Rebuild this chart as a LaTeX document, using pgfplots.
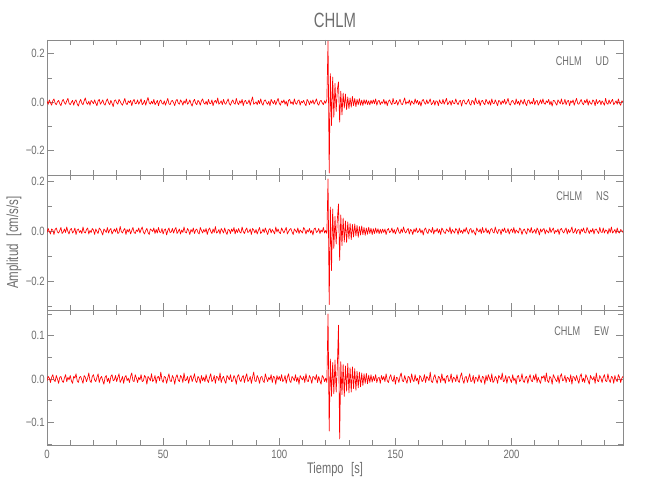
\documentclass[border=0pt]{standalone}
\usepackage{fontspec}
\setmainfont{Liberation Sans}[FakeStretch=0.72]
\newfontfamily\tickfont{Liberation Sans}[FakeStretch=0.8]
\usepackage{pgfplots}
\usepackage{pgfplotstable}
\pgfplotsset{compat=1.18}
\definecolor{axgray}{HTML}{8A8A8A}
\definecolor{txtgray}{HTML}{6E6E6E}
\definecolor{sred}{HTML}{FF0000}

% UD component, values in 0.001 cm/s/s, sample interval 0.5 s
\pgfplotstableread{
4
-8
10
-2
-12
6
14
-4
-10
2
8
-6
-14
4
12
-2
-8
6
16
-4
-10
0
8
-12
4
10
-6
-16
2
12
-4
-10
6
18
-2
-8
4
-12
8
2
-6
10
-4
-14
6
12
-8
0
10
-6
-12
4
14
-2
-10
8
-4
-18
6
10
-2
-8
12
4
-6
-12
2
16
-4
-10
6
-2
8
-14
4
12
-6
-4
10
-8
2
14
-10
-4
8
-12
6
20
-2
-8
4
-6
12
-10
-2
8
-14
4
10
-4
-8
6
-12
2
16
-6
-10
4
8
-2
-14
6
12
-4
-8
10
2
-12
6
-4
14
-8
-2
10
-6
-16
4
12
-4
-10
8
2
-12
6
14
-2
-8
4
-10
12
-4
-6
10
-14
2
8
-4
18
-8
-2
6
-10
12
-4
-8
4
14
-6
-12
2
10
-4
-8
16
-2
-10
6
-4
12
-14
4
8
-6
-2
10
-12
6
22
-8
-4
2
-10
8
-6
14
-4
-12
6
10
-2
-8
4
-14
12
2
-6
8
-10
4
16
-4
-12
6
-2
10
-8
4
-16
8
12
-6
2
-10
14
-4
-8
6
10
-12
4
-2
8
-6
-14
12
4
-10
6
-4
10
-8
2
14
-6
-12
4
8
-2
-10
6
-4
12
252
-292
118
-96
104
-62
78
-38
52
84
-82
46
-52
38
-24
34
-30
22
-26
18
-20
24
-14
16
-18
12
-10
15
-12
9
-13
11
-7
10
-9
6
-11
8
-6
10
-6
14
-12
4
8
-10
2
-4
12
-8
6
-14
4
10
-2
-10
16
-6
-4
8
-12
2
12
-6
-10
4
18
-8
2
-4
10
-12
6
-2
-8
14
-4
8
-10
4
-16
6
12
-2
-8
10
-6
2
14
-10
-4
8
-12
6
4
-14
10
-2
-6
12
-8
4
16
-10
-2
6
-12
8
-4
-6
14
-2
-10
4
8
-16
6
10
-4
-8
2
12
-6
-12
8
4
-10
18
-2
-6
10
-14
4
8
-4
-10
12
2
-8
6
-12
14
-4
-6
10
-2
-14
8
4
-10
6
-4
12
-8
2
16
-6
-12
4
8
-2
-10
14
-6
4
-12
10
2
-8
12
-4
-14
6
10
-8
2
-6
16
-10
4
8
-12
-2
10
-6
14
-4
-8
6
-2
12
-10
4
-16
8
6
-4
-12
10
2
-6
14
-8
-4
12
-10
4
8
-14
6
-2
10
-12
4
16
-6
-8
2
12
-4
-10
8
-2
14
-12
6
-4
-8
10
4
-14
12
-6
2
8
-10
6
-2
-12
16
-4
-8
10
-6
4
12
-10
-2
6
-8
14
-4
-12
6
2
}\ud

% NS component
\pgfplotstableread{
-6
10
-2
-12
8
4
-14
6
12
-4
-8
2
14
-10
-4
8
-6
16
-2
-12
6
10
-8
-2
12
-14
4
8
-6
2
-10
16
-4
-8
6
12
-12
2
-6
10
4
-14
8
-2
-10
12
6
-4
-16
8
2
-6
14
-8
4
10
-12
-2
8
-4
12
-10
-6
18
-2
-8
4
10
-14
6
-4
8
-12
2
14
-6
-10
4
-2
12
-8
6
16
-4
-12
2
10
-6
-14
8
4
-2
12
-10
6
-8
14
-4
-6
10
-12
4
8
-16
2
12
-6
-4
10
-8
6
14
-10
-2
8
-12
4
-6
16
-4
-8
10
2
-14
6
-4
12
-10
4
8
-6
-12
14
2
-8
6
-4
10
-14
4
12
-2
-10
8
-6
18
-8
-4
6
-12
10
2
-8
12
-4
-14
6
4
-10
8
-2
14
-12
6
-6
10
-4
-8
16
-2
-10
4
12
-6
-2
8
-14
10
4
-8
6
-12
2
14
-10
-4
8
-6
12
-2
-14
4
10
-8
6
-2
-12
16
-4
8
-6
-10
12
2
-8
4
14
-12
-2
6
10
-4
-14
8
2
-6
12
-10
4
-2
-8
14
6
-12
4
-4
10
-8
2
-16
8
12
-6
-2
10
-10
4
-4
14
-8
2
-10
208
-294
96
-158
88
-70
58
-52
46
108
-118
64
-58
52
-44
40
-46
36
-32
30
-34
26
-24
28
-20
22
-25
18
-16
20
-15
14
-17
12
-13
15
-10
11
-14
9
-10
12
-8
9
-11
7
-9
8
-6
8
-14
4
10
-6
-2
12
-8
6
-12
2
14
-4
-10
8
-6
16
-2
-8
4
10
-12
6
2
-14
8
-4
12
-6
-2
10
-8
4
-16
6
12
-4
-10
8
2
-6
14
-12
4
-2
10
-8
6
-14
12
4
-6
-10
8
2
-4
16
-12
6
-2
-8
10
4
-14
12
-6
2
-10
8
-4
14
-2
-12
6
10
-8
4
-6
-16
12
2
-4
8
-10
14
-6
-2
12
-8
4
-12
6
10
-4
-8
16
-2
-10
6
4
-14
8
-2
12
-6
-4
10
-12
2
8
-6
14
-10
4
-2
-8
12
6
-14
2
8
-4
-12
10
4
-6
14
-8
-2
6
-10
12
2
-16
8
-4
6
10
-12
4
-2
-8
14
-6
4
12
-10
2
-4
8
-14
6
10
-2
-8
4
12
-12
6
-6
2
16
-8
-4
10
-10
4
6
-14
8
-2
12
-6
-8
14
2
-10
4
-4
10
-12
6
8
-2
-10
14
-4
-6
12
-8
4
2
-12
10
-6
16
-8
-2
6
-10
12
-4
-8
6
2
-6
}\ns

% EW component
\pgfplotstableread{
-4
6
2
-8
4
10
-2
-6
8
0
-10
4
6
-4
-8
2
10
-6
4
-2
8
-4
-10
6
2
12
-4
-8
4
6
-2
-10
8
4
-6
2
14
-4
-8
6
10
-2
-6
4
12
-8
2
6
-4
-12
4
8
-6
2
-10
6
10
-4
-2
8
-6
4
12
-8
-2
6
-10
4
8
-4
2
-8
6
14
-4
-6
10
2
-8
4
-2
10
-6
-4
8
4
-12
6
2
-4
12
-6
-2
8
-10
4
6
-4
16
-2
-8
6
4
-10
2
12
-4
-6
8
2
-12
4
10
-2
-6
8
4
-8
14
-4
-2
6
-10
4
8
-6
2
12
-4
-8
6
2
-10
8
-4
4
-6
10
-2
-8
4
12
-6
-2
8
-10
6
4
-4
14
-8
2
6
-4
-10
8
4
-2
10
-6
-4
8
2
-12
6
10
-2
-6
4
8
-8
4
12
-6
-2
6
-10
4
16
-4
-6
8
2
-10
4
6
-4
-8
12
2
-6
4
-2
10
-8
6
4
-12
8
-2
6
-4
10
-6
-2
8
-10
4
12
-4
-8
6
2
-4
10
-6
4
-12
8
2
-2
6
-8
12
-4
-6
8
2
-10
6
4
-2
10
-8
6
-4
-12
8
4
-6
2
-8
150
-120
46
-40
38
-34
44
-30
28
124
-138
40
-36
34
-40
30
-28
36
-32
26
-30
28
-22
24
-26
18
-20
16
-18
14
-15
12
-10
13
-11
9
-8
10
-7
6
-4
10
-8
2
4
-10
8
-2
6
-6
12
-4
-8
4
10
-2
-6
8
-12
4
2
-8
6
14
-4
-6
8
-2
-10
6
4
-8
12
-2
-6
10
-4
2
-12
8
4
-6
-2
10
-8
6
2
-4
16
-6
-8
4
10
-2
-10
6
4
-8
12
-4
2
-10
6
8
-6
-2
12
-8
4
2
-6
10
-4
-8
6
14
-2
-10
4
6
-8
2
12
-6
-4
8
-10
4
2
-6
10
-2
-8
6
4
-12
8
-4
10
2
-6
12
-8
-4
6
2
-10
8
4
-2
14
-6
-4
8
-10
4
6
-2
-8
10
-4
2
-12
6
8
-6
-2
12
-4
-8
4
6
-10
2
10
-4
-6
8
-2
12
-8
4
-4
-10
6
2
8
-6
14
-4
-8
6
2
-12
10
4
-2
-6
8
-10
6
12
-4
-2
8
-8
4
2
-6
10
-12
6
4
-4
8
-2
-10
6
12
-6
2
-8
10
4
-4
-12
8
2
-2
6
-10
14
-4
-6
8
2
-8
4
10
-4
-6
12
-2
-8
6
4
-10
8
-2
-6
10
4
-8
2
6
}\ew

\pgfplotsset{
  panel/.style={
    scale only axis, width=432pt, height=101.25pt,
    xmin=0, xmax=496, clip=true,
    xtick={0,100,200,300,400},
    minor xtick={20,40,60,80,120,140,160,180,220,240,260,280,320,340,360,380,420,440,460,480},
    tick align=inside, xtick pos=both, ytick pos=both,
    axis line style={axgray, line width=0.5pt},
    tick style={axgray, line width=0.5pt},
    major tick length=5.5pt, minor tick length=3.5pt,
    ticklabel style={text=txtgray, font=\tickfont\fontsize{9}{10}\selectfont},
    yticklabel style={inner sep=1.5pt},
    xticklabels={},
    anchor=south west,
  },
  trace/.style={draw=sred, line width=0.5pt, mark=none, line join=round, line cap=round},
}
\tikzset{plabel/.style={anchor=east, inner sep=0pt, text=txtgray, font=\fontsize{9.5}{10}\selectfont}}

\begin{document}
\begin{tikzpicture}
\useasboundingbox (0,0) rectangle (487.5pt,375pt);

\begin{axis}[panel, at={(35.25pt,243.75pt)},
  ymin=-300, ymax=257,
  ytick={-200,0,200}, yticklabels={−0.2,0.0,0.2},
  minor ytick={-100,100}]
\addplot[trace] table[x expr=\coordindex, y index=0] {\ud};
\node[plabel] at (rel axis cs:0.976,0.844) {CHLM\hspace{10.5pt}UD};
\end{axis}

\begin{axis}[panel, at={(35.25pt,142.5pt)},
  ymin=-316, ymax=224,
  ytick={-200,0,200}, yticklabels={−0.2,0.0,0.2},
  minor ytick={-300,-100,100}]
\addplot[trace] table[x expr=\coordindex, y index=0] {\ns};
\node[plabel] at (rel axis cs:0.976,0.844) {CHLM\hspace{10.5pt}NS};
\end{axis}

\begin{axis}[panel, at={(35.25pt,41.25pt)},
  ymin=-152, ymax=159,
  ytick={-100,0,100}, yticklabels={−0.1,0.0,0.1},
  minor ytick={-150,-50,50,150},
  xticklabels={0,50,100,150,200}]
\addplot[trace] table[x expr=\coordindex, y index=0] {\ew};
\node[plabel] at (rel axis cs:0.976,0.844) {CHLM\hspace{10.5pt}EW};
\end{axis}

\node[text=txtgray, font=\fontsize{15.5}{16}\selectfont] at (251.25pt,360pt) {CHLM};
\node[text=txtgray, font=\fontsize{12}{13}\selectfont, rotate=90] at (10.5pt,193pt) {Amplitud\hspace{0.5em}[cm/s/s]};
\node[text=txtgray, font=\fontsize{11.5}{12}\selectfont] at (251.25pt,22.5pt) {Tiempo\hspace{0.5em}[s]};
\end{tikzpicture}
\end{document}
